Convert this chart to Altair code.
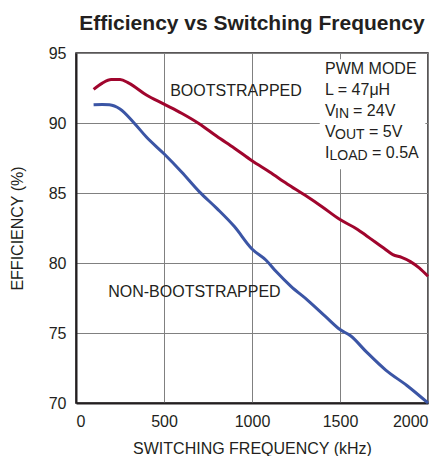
import altair as alt
import pandas as pd

# ---- data ----
boot_freq = [100, 150, 200, 250, 300, 400, 500, 600, 700, 800, 900, 1000, 1100, 1200,
             1300, 1400, 1500, 1600, 1650, 1700, 1750, 1800, 1850, 1900, 1950, 2000]
boot_eff = [92.4, 92.85, 93.1, 93.1, 92.85, 92.0, 91.35, 90.7, 89.95, 89.05, 88.2, 87.3,
            86.5, 85.65, 84.85, 84.0, 83.1, 82.4, 81.95, 81.5, 81.05, 80.6, 80.4, 80.1,
            79.65, 79.05]

nonboot_freq = [100, 150, 190, 250, 330, 400, 500, 600, 700, 800, 900, 1000, 1080, 1140,
                1220, 1320, 1420, 1500, 1560, 1650, 1760, 1880, 2000]
nonboot_eff = [91.3, 91.32, 91.3, 91.0, 90.0, 89.0, 87.8, 86.5, 85.1, 83.9, 82.6, 81.0,
               80.2, 79.35, 78.35, 77.3, 76.15, 75.25, 74.8, 73.65, 72.35, 71.25, 70.0]

series_names = ["BOOTSTRAPPED", "NON-BOOTSTRAPPED"]
series_colors = ["#A0052D", "#3B55A5"]

x_ticks = [0, 500, 1000, 1500, 2000]
y_ticks = [70, 75, 80, 85, 90, 95]

curve_label_x = [909, 673]
curve_label_y = [92.3, 77.95]

cond_x = 1415
cond_y = [93.86, 92.36, 90.86, 89.36, 87.86]
cond_main = ["PWM MODE", "L = 47μH", "V", "V", "I"]
cond_sub = ["", "", "IN", "OUT", "LOAD"]
cond_rest = ["", "", "= 24V", "= 5V", "= 0.5A"]

box_x = [1385, 1985]
box_y = [86.7, 94.55]

FONT = "Liberation Sans, Arial, Helvetica, sans-serif"
TXT = "#231F20"
FS = 16

rows = []
for f, e in zip(boot_freq, boot_eff):
    rows.append({"freq": f, "eff": e, "series": series_names[0]})
for f, e in zip(nonboot_freq, nonboot_eff):
    rows.append({"freq": f, "eff": e, "series": series_names[1]})
df = pd.DataFrame(rows)

xs = alt.Scale(domain=[0, 2000], nice=False)
ys = alt.Scale(domain=[70, 95], nice=False, zero=False)

lines = alt.Chart(df).mark_line(strokeWidth=3, interpolate="monotone").encode(
    x=alt.X("freq:Q", scale=xs,
            axis=alt.Axis(title="SWITCHING FREQUENCY (kHz)", values=x_ticks, grid=True,
                          format="d", ticks=False, labelPadding=10, titlePadding=11)),
    y=alt.Y("eff:Q", scale=ys,
            axis=alt.Axis(title="EFFICIENCY (%)", values=y_ticks, grid=True, format="d",
                          ticks=False, labelPadding=10, titlePadding=23)),
    color=alt.Color("series:N", scale=alt.Scale(domain=series_names, range=series_colors),
                    legend=None),
)

box_df = pd.DataFrame({"x": [box_x[0]], "x2": [box_x[1]], "y": [box_y[0]], "y2": [box_y[1]]})
box = alt.Chart(box_df).mark_rect(fill="white").encode(
    x=alt.X("x:Q", scale=xs), x2="x2:Q", y=alt.Y("y:Q", scale=ys), y2="y2:Q")

lab_df = pd.DataFrame({"x": curve_label_x, "y": curve_label_y, "t": series_names})
curve_labels = alt.Chart(lab_df).mark_text(font=FONT, fontSize=FS, color=TXT,
                                           align="center", baseline="middle").encode(
    x=alt.X("x:Q", scale=xs), y=alt.Y("y:Q", scale=ys), text="t:N")

cond_df = pd.DataFrame({"x": [cond_x] * 5, "y": cond_y, "main": cond_main,
                        "sub": cond_sub, "rest": cond_rest})
base = alt.Chart(cond_df)
cond_main_t = base.mark_text(font=FONT, fontSize=FS, color=TXT, align="left",
                             baseline="middle").encode(
    x=alt.X("x:Q", scale=xs), y=alt.Y("y:Q", scale=ys), text="main:N")

sub_layers = []
rest_layers = []
sub_dx = {"IN": 10, "OUT": 10, "LOAD": 4.5}
rest_dx = {"IN": 28, "OUT": 44, "LOAD": 47}
for key in ["IN", "OUT", "LOAD"]:
    part = base.transform_filter(alt.datum.sub == key)
    sub_layers.append(part.mark_text(font=FONT, fontSize=14, color=TXT, align="left",
                                     baseline="middle", dx=sub_dx[key], dy=3).encode(
        x=alt.X("x:Q", scale=xs), y=alt.Y("y:Q", scale=ys), text="sub:N"))
    rest_layers.append(part.mark_text(font=FONT, fontSize=FS, color=TXT, align="left",
                                      baseline="middle", dx=rest_dx[key]).encode(
        x=alt.X("x:Q", scale=xs), y=alt.Y("y:Q", scale=ys), text="rest:N"))

chart = alt.layer(box, lines, curve_labels, cond_main_t, *sub_layers, *rest_layers).properties(
    width=352, height=350,
    background="white",
    title=alt.TitleParams("Efficiency vs Switching Frequency", font=FONT, fontSize=21,
                          fontWeight="bold", color=TXT, anchor="middle", offset=11),
    autosize=alt.AutoSizeParams(type="none"),
    padding={"left": 68, "top": 45, "right": 9, "bottom": 53},
).configure_axis(
    labelFont=FONT, labelFontSize=FS, labelColor=TXT,
    titleFont=FONT, titleFontSize=FS, titleColor=TXT, titleFontWeight="normal",
    gridColor="#808080", gridWidth=1, gridOpacity=1,
    domainColor=TXT, domainWidth=2,
).configure_view(
    stroke=TXT, strokeWidth=1.5,
)

chart.save("out.html", embed_options={"renderer": "svg", "actions": False})
